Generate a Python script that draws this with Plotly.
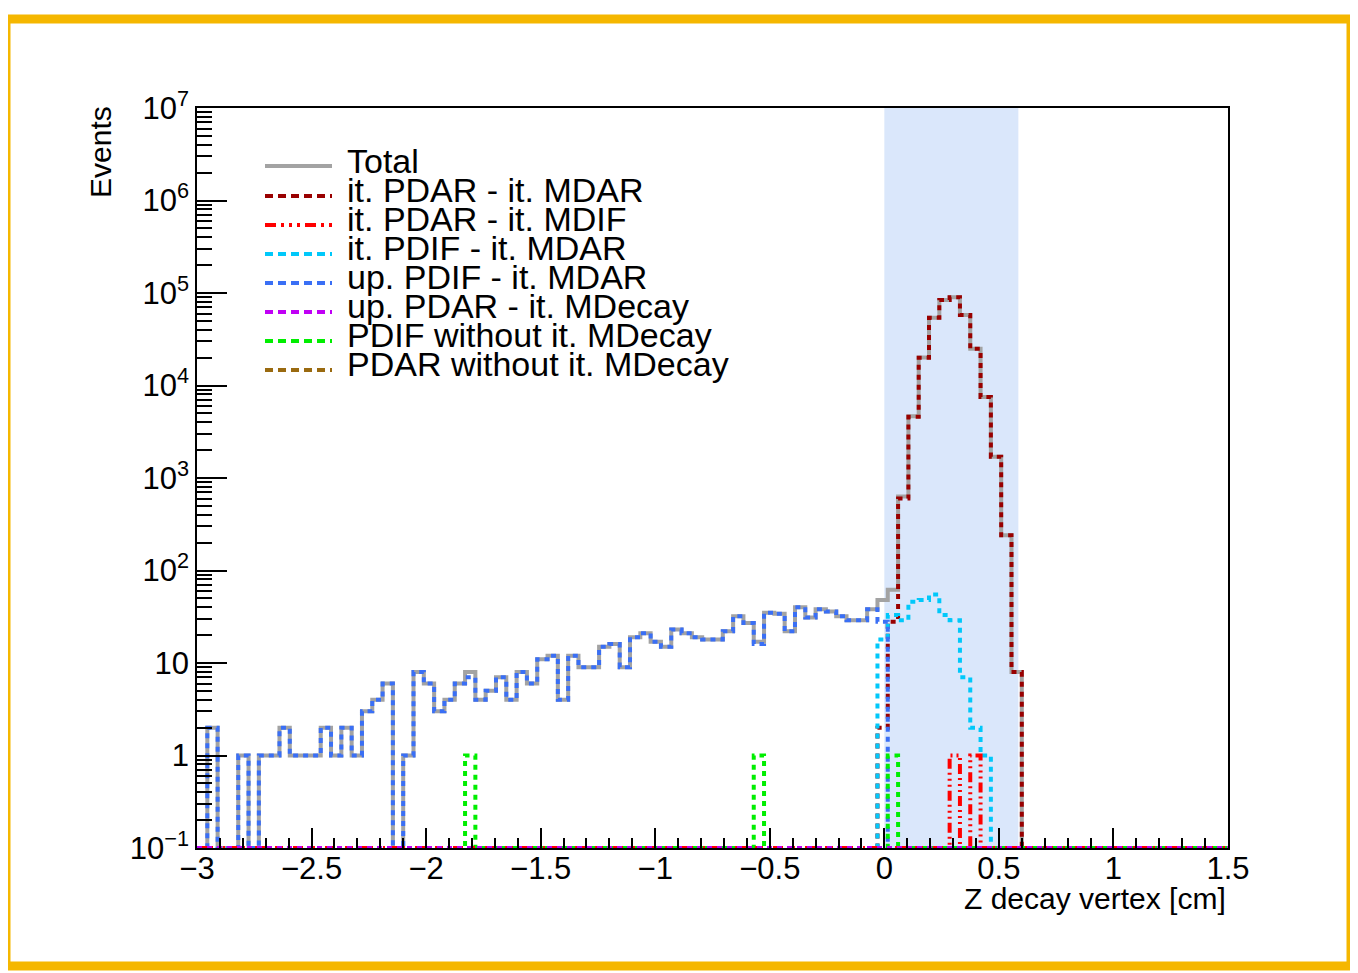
import plotly.graph_objects as go

# ---------------- data ----------------
bin_start = -3.0          # histogram low edge [cm]
bin_width = 0.045         # 100 bins from -3 to 1.5
n_bins = 100

# up. PDIF - it. MDAR  (bins 0..66)
up_pdif_first = 0
up_pdif_counts = [0, 2, 0, 0, 1, 0, 1, 1, 2, 1,
                  1, 1, 2, 1, 2, 1, 3, 4, 6, 0,
                  1, 8, 6, 3, 4, 6, 7, 4, 5, 7,
                  4, 8, 6, 11, 12, 4, 12, 9, 9, 15,
                  16, 9, 19, 21, 17, 15, 23, 21, 19, 18,
                  18, 22, 32, 27, 16, 35, 34, 22, 40, 31,
                  38, 36, 32, 29, 29, 38, 28]

# it. PDIF - it. MDAR  (bins 66..76)
it_pdif_first = 66
it_pdif_counts = [18, 33, 29, 46, 48, 55, 33, 29, 7, 2, 1]

# it. PDAR - it. MDAR  (bins 66..79)
it_pdar_mdar_first = 66
it_pdar_mdar_counts = [2, 28, 600, 4600, 20000, 54000, 84000, 90000,
                       58000, 25000, 7500, 1700, 240, 8]

# it. PDAR - it. MDIF  (bins 73..75)
it_pdar_mdif_first = 73
it_pdar_mdif_counts = [1, 0, 1]

# PDIF without it. MDecay (single-entry bins)
pdif_wo_bins = [26, 54, 67]
pdif_wo_counts = [1, 1, 1]

# up. PDAR - it. MDecay and PDAR without it. MDecay: empty
up_pdar_counts = []
pdar_wo_counts = []

series_names = ["Total", "it. PDAR - it. MDAR", "it. PDAR - it. MDIF",
                "it. PDIF - it. MDAR", "up. PDIF - it. MDAR",
                "up. PDAR - it. MDecay", "PDIF without it. MDecay",
                "PDAR without it. MDecay"]

x_ticks = [-3, -2.5, -2, -1.5, -1, -0.5, 0, 0.5, 1, 1.5]
x_ticktext = ["\u22123", "\u22122.5", "\u22122", "\u22121.5", "\u22121",
              "\u22120.5", "0", "0.5", "1", "1.5"]
y_ticks = [0.1, 1, 10, 100, 1e3, 1e4, 1e5, 1e6, 1e7]
y_ticktext = ["10<sup>\u22121</sup>", "1", "10", "10<sup>2</sup>",
              "10<sup>3</sup>", "10<sup>4</sup>", "10<sup>5</sup>",
              "10<sup>6</sup>", "10<sup>7</sup>"]

signal_region = [0.0, 0.585]

# ---------------- build full histograms ----------------
def expand(first, counts):
    arr = [0] * n_bins
    for i, c in enumerate(counts):
        arr[first + i] = c
    return arr

h_up_pdif = expand(up_pdif_first, up_pdif_counts)
h_it_pdif = expand(it_pdif_first, it_pdif_counts)
h_dred = expand(it_pdar_mdar_first, it_pdar_mdar_counts)
h_mdif = expand(it_pdar_mdif_first, it_pdar_mdif_counts)
h_green = [0] * n_bins
for b, c in zip(pdif_wo_bins, pdif_wo_counts):
    h_green[b] = c
h_purple = expand(0, up_pdar_counts)
h_brown = expand(0, pdar_wo_counts)
h_total = [sum(v) for v in zip(h_up_pdif, h_it_pdif, h_dred, h_mdif,
                                h_green, h_purple, h_brown)]

edges = [bin_start + bin_width * k for k in range(n_bins + 1)]
YMIN = 0.1  # empty bins drawn on the frame bottom (ROOT style)


def step_y(vals):
    v = [c if c > 0 else YMIN for c in vals]
    return v + [v[-1]]


FONT = "Liberation Sans, Arial, Helvetica, sans-serif"
DOT = "5px,5px"
DASHDOT = "10px,4px,2px,4px,2px,4px,2px,4px"
LEG_DOT = "8px,5px"
LEG_DASHDOT = "11px,5px,3px,5px,3px,5px,3px,5px"

styles = {
    "Total": dict(color="#a3a3a3", dash="solid", width=4),
    "it. PDAR - it. MDAR": dict(color="#990000", dash=DOT, width=4),
    "it. PDAR - it. MDIF": dict(color="#ff0000", dash=DASHDOT, width=4),
    "it. PDIF - it. MDAR": dict(color="#00c8fa", dash=DOT, width=4),
    "up. PDIF - it. MDAR": dict(color="#3a6ff5", dash=DOT, width=4),
    "up. PDAR - it. MDecay": dict(color="#c000f5", dash=DOT, width=4),
    "PDIF without it. MDecay": dict(color="#00ee00", dash=DOT, width=4),
    "PDAR without it. MDecay": dict(color="#9a6a10", dash=DOT, width=4),
}
hists = {
    "Total": h_total,
    "it. PDAR - it. MDAR": h_dred,
    "it. PDAR - it. MDIF": h_mdif,
    "it. PDIF - it. MDAR": h_it_pdif,
    "up. PDIF - it. MDAR": h_up_pdif,
    "up. PDAR - it. MDecay": h_purple,
    "PDIF without it. MDecay": h_green,
    "PDAR without it. MDecay": h_brown,
}
draw_order = ["Total", "PDAR without it. MDecay", "it. PDAR - it. MDAR",
              "it. PDIF - it. MDAR", "up. PDIF - it. MDAR",
              "PDIF without it. MDecay", "it. PDAR - it. MDIF",
              "up. PDAR - it. MDecay"]

fig = go.Figure()
for name in draw_order:
    st = styles[name]
    fig.add_trace(go.Scatter(
        x=edges, y=step_y(hists[name]), mode="lines", name=name,
        line=dict(shape="hv", color=st["color"], dash=st["dash"],
                  width=st["width"]),
        showlegend=False, hoverinfo="skip"))

# ---------------- layout geometry (page pixels) ----------------
OFF = 8                      # default body margin of the html page
W, H = 1358 - OFF, 973 - OFF
PL, PR, PT, PB = 197, 1228, 108, 848   # plot area, page pixels


def px(x):
    return (x - PL) / (PR - PL)


def py(y):
    return (PB - y) / (PB - PT)


shapes = []
# signal region band
shapes.append(dict(type="rect", xref="x", yref="paper",
                   x0=signal_region[0], x1=signal_region[1], y0=0, y1=1,
                   fillcolor="#dae7fb", line=dict(width=0), layer="below"))
# decorative orange frame
shapes.append(dict(type="rect", xref="paper", yref="paper",
                   x0=px(6), x1=px(1351), y0=py(966), y1=py(19),
                   line=dict(color="#f5b700", width=9), layer="above"))

annotations = []
# manual legend (ROOT TLegend look)
leg_line_y = [166, 196, 225, 254, 283, 312, 341, 370]
leg_text_y = [161, 190, 219, 248, 277, 306, 335, 364]
for name, ly, ty in zip(series_names, leg_line_y, leg_text_y):
    st = styles[name]
    if st["dash"] == DOT:
        ldash = LEG_DOT
    elif st["dash"] == DASHDOT:
        ldash = LEG_DASHDOT
    else:
        ldash = st["dash"]
    shapes.append(dict(type="line", xref="paper", yref="paper",
                       x0=px(265), x1=px(332), y0=py(ly), y1=py(ly),
                       line=dict(color=st["color"], dash=ldash,
                                 width=st["width"])))
    annotations.append(dict(text=name, xref="paper", yref="paper",
                            x=px(345), y=py(ty), xanchor="left",
                            yanchor="middle", showarrow=False,
                            font=dict(family=FONT, size=34, color="black")))

# axis titles
annotations.append(dict(text="Z decay vertex [cm]", xref="paper",
                        yref="paper", x=1.0, y=py(898), xanchor="right",
                        yanchor="middle", showarrow=False,
                        font=dict(family=FONT, size=30, color="black")))
annotations.append(dict(text="Events", xref="paper", yref="paper",
                        x=px(100), y=py(104), xanchor="center",
                        yanchor="top", textangle=-90, showarrow=False,
                        font=dict(family=FONT, size=30, color="black")))

y_minor = [m * 10 ** e for e in range(-1, 7) for m in range(2, 10)]

fig.update_layout(
    width=W, height=H,
    margin=dict(l=PL - OFF, r=W - (PR - OFF), t=PT - OFF, b=H - (PB - OFF),
                pad=0),
    paper_bgcolor="white", plot_bgcolor="white",
    showlegend=False,
    shapes=shapes, annotations=annotations,
    font=dict(family=FONT, color="black"),
    xaxis=dict(range=[edges[0], edges[-1]], showgrid=False, zeroline=False,
               showline=True, linecolor="black", linewidth=1.5, mirror=True,
               ticks="inside", ticklen=20, tickwidth=1.5, tickcolor="black",
               tickmode="array", tickvals=x_ticks, ticktext=x_ticktext,
               ticklabelstandoff=-8,
               tickfont=dict(family=FONT, size=31, color="black"),
               minor=dict(ticks="inside", ticklen=10, tickwidth=1.5,
                          tickcolor="black", dtick=0.1, tick0=0,
                          showgrid=False)),
    yaxis=dict(type="log", range=[-1, 7], showgrid=False, zeroline=False,
               showline=True, linecolor="black", linewidth=1.5, mirror=True,
               ticks="inside", ticklen=30, tickwidth=1.5, tickcolor="black",
               tickmode="array", tickvals=y_ticks, ticktext=y_ticktext,
               tickfont=dict(family=FONT, size=31, color="black"),
               minor=dict(ticks="inside", ticklen=15, tickwidth=1.5,
                          tickcolor="black", tickmode="array",
                          tickvals=y_minor, showgrid=False)),
)

fig.write_html("out.html")
